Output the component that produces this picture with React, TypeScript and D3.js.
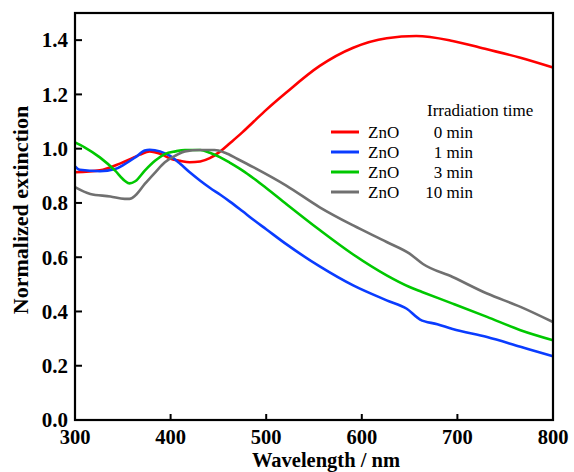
import React from 'react';
import * as d3 from 'd3';

// wavelength (nm) / normalized extinction
const redNm = [300, 326, 347, 357, 368, 378, 390, 400, 410, 420, 431, 441, 452, 462, 475, 487, 500, 521, 556, 591, 626, 657, 695, 731, 765, 800];
const redVal = [0.913, 0.92, 0.945, 0.96, 0.978, 0.99, 0.98, 0.963, 0.955, 0.95, 0.953, 0.965, 0.99, 1.02, 1.06, 1.1, 1.143, 1.207, 1.305, 1.372, 1.407, 1.415, 1.397, 1.366, 1.336, 1.299];

const blueNm = [300, 305, 326, 342, 352, 363, 373, 378, 389, 399, 410, 420, 431, 441, 452, 462, 475, 487, 500, 521, 556, 591, 626, 647, 661, 679, 695, 731, 766, 800];
const blueVal = [0.935, 0.922, 0.917, 0.925, 0.943, 0.968, 0.993, 0.996, 0.99, 0.974, 0.944, 0.913, 0.882, 0.856, 0.83, 0.805, 0.77, 0.737, 0.703, 0.648, 0.566, 0.496, 0.441, 0.41, 0.37, 0.353, 0.335, 0.306, 0.27, 0.235];

const greenNm = [300, 310, 326, 342, 352, 357, 363, 373, 384, 394, 405, 415, 431, 441, 452, 462, 475, 487, 500, 521, 556, 591, 626, 650, 663, 695, 731, 766, 800];
const greenVal = [1.023, 1.005, 0.968, 0.919, 0.882, 0.872, 0.88, 0.919, 0.956, 0.98, 0.99, 0.995, 0.995, 0.985, 0.968, 0.948, 0.92, 0.89, 0.855, 0.796, 0.7, 0.61, 0.533, 0.49, 0.472, 0.429, 0.38, 0.331, 0.294];

const grayNm = [300, 316, 337, 352, 357, 363, 373, 384, 394, 405, 415, 431, 446, 457, 470, 487, 521, 556, 591, 626, 650, 664, 695, 731, 766, 800];
const grayVal = [0.858, 0.833, 0.824, 0.815, 0.815, 0.827, 0.87, 0.913, 0.95, 0.974, 0.99, 0.995, 0.995, 0.985, 0.962, 0.931, 0.864, 0.784, 0.717, 0.656, 0.613, 0.575, 0.527, 0.466, 0.417, 0.361];

const seriesNames = ['ZnO', 'ZnO', 'ZnO', 'ZnO'];
const seriesTimes = ['0 min', '1 min', '3 min', '10 min'];
const seriesColors = ['#ff0000', '#0a3cff', '#00c800', '#707070'];

const xTicks = [300, 400, 500, 600, 700, 800];
const yTicks = [0, 0.2, 0.4, 0.6, 0.8, 1.0, 1.2, 1.4];

const W = 574;
const H = 472;
const left = 75, right = 553, top = 13, bottom = 420;

export default function App() {
  const x = d3.scaleLinear().domain([300, 800]).range([left, right]);
  const y = d3.scaleLinear().domain([0, 1.5]).range([bottom, top]);

  const line = d3.line<[number, number]>()
    .x(d => x(d[0]))
    .y(d => y(d[1]))
    .curve(d3.curveMonotoneX);

  const series = [
    d3.zip(redNm, redVal),
    d3.zip(blueNm, blueVal),
    d3.zip(greenNm, greenVal),
    d3.zip(grayNm, grayVal),
  ] as [number, number][][];

  const font = '"Liberation Serif", "Times New Roman", serif';

  return (
    <div style={{ position: 'absolute', left: 0, top: 0 }}>
      <svg width={W} height={H} style={{ display: 'block', background: '#fff' }}>
        {series.map((s, i) => (
          <path key={i} d={line(s) || ''} fill="none" stroke={seriesColors[i]} strokeWidth={2.6} strokeLinejoin="round" />
        ))}

        <rect x={left} y={top} width={right - left} height={bottom - top} fill="none" stroke="#000" strokeWidth={2.2} />

        {xTicks.map(t => (
          <g key={'x' + t}>
            <line x1={x(t)} x2={x(t)} y1={bottom} y2={bottom - 6} stroke="#000" strokeWidth={2} />
            <text x={x(t)} y={444} textAnchor="middle" fontFamily={font} fontWeight="bold" fontSize={20.5}>{t}</text>
          </g>
        ))}
        {yTicks.map(t => (
          <g key={'y' + t}>
            <line x1={left} x2={left + 7} y1={y(t)} y2={y(t)} stroke="#000" strokeWidth={2} />
            <text x={68} y={y(t)} dy="0.35em" textAnchor="end" fontFamily={font} fontWeight="bold" fontSize={21}>{t.toFixed(1)}</text>
          </g>
        ))}

        <text x={326} y={466.5} textAnchor="middle" fontFamily={font} fontWeight="bold" fontSize={20.5}>Wavelength / nm</text>
        <text transform="translate(28,210) rotate(-90)" textAnchor="middle" fontFamily={font} fontWeight="bold" fontSize={22}>Normalized extinction</text>

        <text x={427} y={116} fontFamily={font} fontSize={17}>Irradiation time</text>
        {seriesTimes.map((t, i) => (
          <g key={'leg' + i}>
            <line x1={331} x2={359} y1={132 + i * 20} y2={132 + i * 20} stroke={seriesColors[i]} strokeWidth={3} />
            <text x={368} y={137.5 + i * 20} fontFamily={font} fontSize={17}>{seriesNames[i]}</text>
            <text x={473} y={137.5 + i * 20} textAnchor="end" fontFamily={font} fontSize={17}>{t}</text>
          </g>
        ))}
      </svg>
    </div>
  );
}
